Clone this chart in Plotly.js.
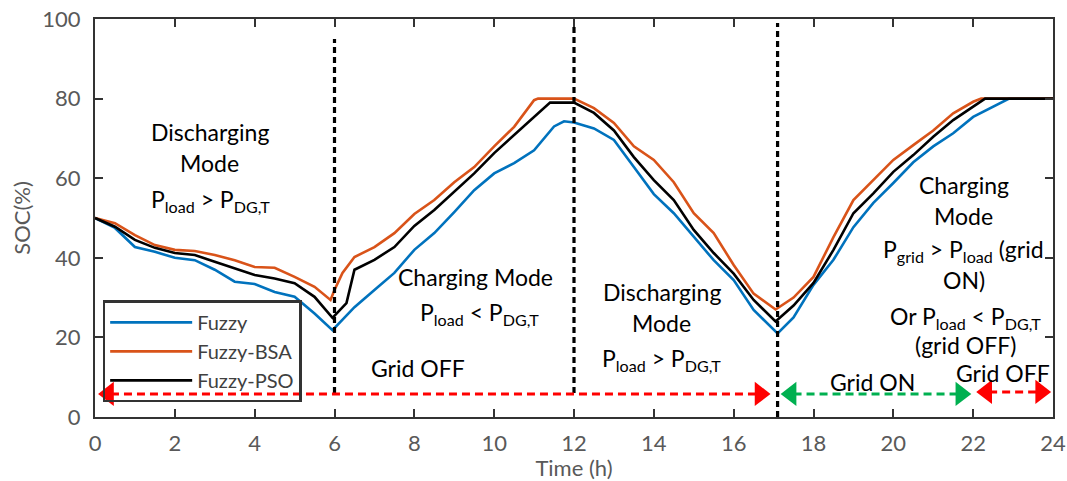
<!DOCTYPE html>
<html>
<head>
<meta charset="utf-8">
<script src="https://cdn.plot.ly/plotly-3.0.1.min.js"></script>
<style>html,body{margin:0;padding:0;background:#fff;}#chart{width:1067px;height:481px;}</style>
</head>
<body>
<div id="chart"></div>
<script>
// ---- data ----
const seriesNames = ["Fuzzy", "Fuzzy-BSA", "Fuzzy-PSO"];

const timeFuzzy = [0, 0.5, 1, 1.5, 2, 2.5, 3, 3.5, 4, 4.5, 5, 5.5, 5.95, 6.5, 7, 7.5, 8, 8.5, 9, 9.5, 10, 10.5, 11, 11.5, 11.75, 12, 12.5, 13, 13.5, 14, 14.5, 15, 15.5, 16, 16.5, 17.1, 17.5, 18, 18.5, 19, 19.5, 20, 20.5, 21, 21.5, 22, 22.5, 22.9, 24];
const socFuzzy  = [50, 47.5, 42.7, 41.5, 40, 39.4, 37, 34, 33.4, 31.4, 30.2, 26, 21.8, 27.6, 31.9, 36.2, 42, 46.2, 51.5, 57, 61.2, 63.8, 67, 73, 74.3, 74, 72.5, 69.6, 62.8, 56, 51.2, 45.2, 39.4, 34.4, 26.9, 21, 25, 33.2, 39.5, 47.7, 53.8, 58.8, 64, 68, 71.3, 75.4, 78, 80, 80];

const timeBSA = [0, 0.5, 1, 1.5, 2, 2.5, 3, 3.5, 4, 4.5, 5, 5.5, 5.9, 6, 6.2, 6.5, 7, 7.5, 8, 8.5, 9, 9.5, 10, 10.5, 11, 11.1, 12, 12.5, 13, 13.5, 14, 14.5, 15, 15.5, 16, 16.5, 17.05, 17.5, 18, 18.5, 19, 19.5, 20, 20.5, 21, 21.5, 22, 22.2, 24];
const socBSA  = [50, 48.7, 45.7, 43.2, 42, 41.7, 40.7, 39.4, 37.7, 37.5, 35.2, 32.7, 29.4, 31.9, 36.2, 40.2, 42.7, 46.2, 51, 54.5, 59, 62.8, 68, 72.9, 79.6, 80, 80, 77.6, 73.9, 68, 64.6, 59, 51.2, 46.2, 38.2, 31, 27, 30, 35.2, 45.2, 54.5, 59.5, 64.6, 68.3, 72, 76.3, 79.2, 80, 80];

const timePSO = [0, 0.5, 1, 1.5, 2, 2.5, 3, 3.5, 4, 4.5, 5, 5.5, 5.95, 6.05, 6.3, 6.5, 7, 7.5, 8, 8.5, 9, 9.5, 10, 10.5, 11, 11.4, 12, 12.5, 13, 13.5, 14, 14.5, 15, 15.5, 16, 16.5, 17.05, 17.5, 18, 18.5, 19, 19.5, 20, 20.5, 21, 21.5, 22, 22.3, 24];
const socPSO  = [50, 47.8, 44.5, 42.5, 41.2, 40.7, 39, 37.4, 35.7, 34.8, 33.6, 30.2, 24.9, 26, 28.6, 37, 39.5, 42.7, 48, 52, 56.5, 61.2, 66.3, 70.9, 75.4, 79, 79, 76.4, 72, 65.3, 59.5, 54.5, 47, 41.2, 36, 29.4, 24, 28, 33.7, 42, 51.2, 56.2, 61.6, 65.8, 70.4, 74.6, 78, 80, 80];

const xTicks = [0, 2, 4, 6, 8, 10, 12, 14, 16, 18, 20, 22, 24];
const yTicks = [0, 20, 40, 60, 80, 100];

// mode boundaries (h) and grid-state periods
const modeBoundaries = [6, 12, 17.1];
const gridPeriods = [
  {label: "Grid OFF", start: 0, end: 17.1, color: "#FF0000"},
  {label: "Grid ON", start: 17.1, end: 22, color: "#00B050"},
  {label: "Grid OFF", start: 22, end: 24, color: "#FF0000"}
];

// ---- styling ----
const FONT = "Lato, 'Open Sans', sans-serif";
const colors = ["#0072BD", "#D95319", "#000000"];

const traces = [
  {x: timeFuzzy, y: socFuzzy, name: seriesNames[0], mode: "lines", line: {color: colors[0], width: 2.6}},
  {x: timeBSA, y: socBSA, name: seriesNames[1], mode: "lines", line: {color: colors[1], width: 2.6}},
  {x: timePSO, y: socPSO, name: seriesNames[2], mode: "lines", line: {color: colors[2], width: 2.6}}
];

const shapes = [];
// vertical dotted mode separators
const sepTop = [95, 99, 99];
const sepBottom = [6, 6, 0];
modeBoundaries.forEach((b, i) => {
  shapes.push({type: "line", xref: "x", yref: "y", x0: b, x1: b, y0: sepBottom[i], y1: sepTop[i],
    line: {color: "#000", width: 3.2, dash: "6px,4px"}});
});

// grid state arrows: dashed shaft + triangle heads
const arrowY = [5.8, 5.8, 6.3];
const headOffset = 0.29;
gridPeriods.forEach((p, i) => {
  const y = arrowY[i];
  shapes.push({type: "line", xref: "x", yref: "y", x0: p.start + 0.4, x1: p.end - 0.4, y0: y, y1: y,
    line: {color: p.color, width: 3, dash: "8px,5px"}});
  const tipL = p.start + 0.05;
  const tipR = p.end - (i === 0 ? 0.15 : 0.02);
  traces.push({x: [tipL + headOffset], y: [y], mode: "markers", showlegend: false, hoverinfo: "skip", cliponaxis: false,
    marker: {symbol: "triangle-left", size: 21, color: p.color}});
  traces.push({x: [tipR - headOffset], y: [y], mode: "markers", showlegend: false, hoverinfo: "skip", cliponaxis: false,
    marker: {symbol: "triangle-right", size: 21, color: p.color}});
});

const PL = "P<sub>load</sub>";
const PDG = "P<sub>DG,T</sub>";
const PG = "P<sub>grid</sub>";
const labels = [
  ["Discharging", 2.88, 71.6], ["Mode", 2.88, 63.8], [PL + " > " + PDG, 2.9, 54.3],
  ["Charging Mode", 9.54, 35.2], [PL + " < " + PDG, 9.64, 26.0],
  ["Grid OFF", 8.09, 12.3],
  ["Discharging", 14.2, 31.4], ["Mode", 14.2, 23.6], [PL + " > " + PDG, 14.2, 14.5],
  ["Charging", 21.77, 58.3], ["Mode", 21.77, 50.5], [PG + " > " + PL + " (grid", 21.77, 41.9],
  ["ON)", 21.77, 34.4], ["Or " + PL + " < " + PDG, 21.8, 25.0], ["(grid OFF)", 21.8, 18.1],
  ["Grid ON", 19.49, 8.8], ["Grid OFF", 22.75, 11.1]
];
const annotations = labels.map(l => ({
  text: l[0], x: l[1], y: l[2], xref: "x", yref: "y", showarrow: false,
  xanchor: "center", yanchor: "middle", font: {family: FONT, size: 23, color: "#000"}
}));

const axisCommon = {
  showline: true, linecolor: "#333", linewidth: 2, mirror: "ticks",
  ticks: "inside", ticklen: 8, tickwidth: 2, tickcolor: "#333",
  showgrid: false, zeroline: false,
  tickfont: {family: FONT, size: 22, color: "#595959"}
};

const layout = {
  width: 1067, height: 481,
  margin: {l: 95, r: 14, t: 19, b: 64},
  paper_bgcolor: "#fff", plot_bgcolor: "#fff",
  font: {family: FONT},
  xaxis: Object.assign({}, axisCommon, {range: [0, 24], tickvals: xTicks, ticklabelstandoff: 6,
    title: {text: "Time (h)", font: {family: FONT, size: 22, color: "#595959"}, standoff: 2}}),
  yaxis: Object.assign({}, axisCommon, {range: [0, 100], tickvals: yTicks, ticklabelstandoff: 8,
    title: {text: "SOC(%)", font: {family: FONT, size: 22, color: "#595959"}, standoff: 6}}),
  showlegend: true,
  legend: {x: 0.008, y: 0.293, xanchor: "left", yanchor: "top", bgcolor: "rgba(255,255,255,0)",
    bordercolor: "#333", borderwidth: 2.5, font: {family: FONT, size: 20, color: "#404040"},
    itemwidth: 82, tracegroupgap: 0},
  shapes: shapes,
  annotations: annotations
};

Plotly.newPlot("chart", traces, layout, {displayModeBar: false, staticPlot: true});
</script>
</body>
</html>
